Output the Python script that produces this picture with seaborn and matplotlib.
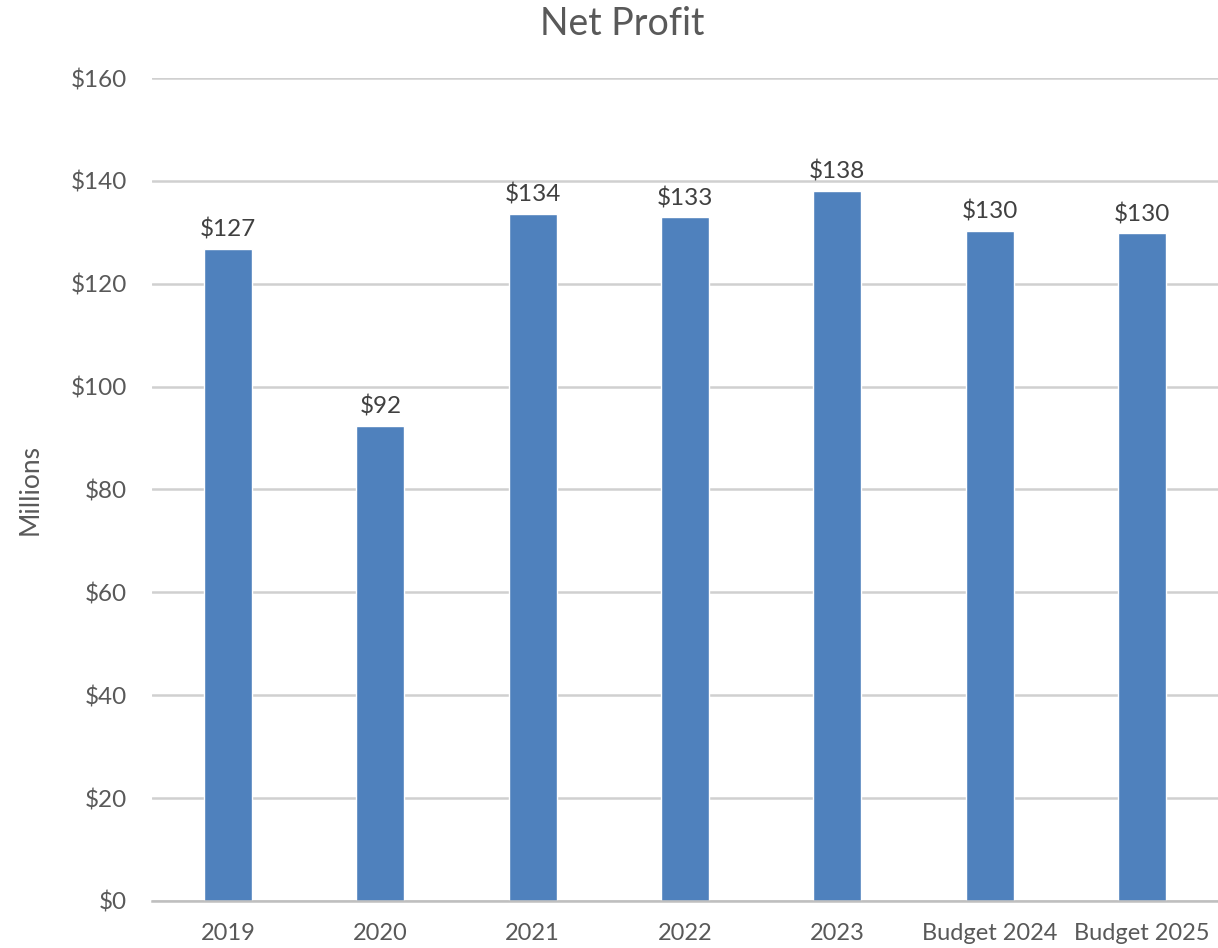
import matplotlib
matplotlib.use("Agg")
import matplotlib.pyplot as plt
import seaborn as sb

categories = ['2019', '2020', '2021', '2022', '2023', 'Budget 2024', 'Budget 2025']
profit = [126.7, 92.3, 133.5, 132.9, 138.1, 130.3, 129.8]
y_ticks = [0, 20, 40, 60, 80, 100, 120, 140, 160]

if __name__ == '__main__':
    sb.set_style('white')
    plt.rcParams['font.family'] = ['Lato', 'DejaVu Sans']

    fig = plt.figure(figsize=(12.18, 9.48), dpi=100)
    ax = fig.add_axes([0.1248, 0.0496, 0.8752, 0.8681])

    sb.barplot(x=categories, y=profit, color='#4F81BD', saturation=1, width=0.315, ax=ax)

    # gridlines like excel
    ax.set_ylim(0, 160)
    ax.set_xlim(-0.5, len(categories) - 0.5)
    ax.set_yticks(y_ticks)
    ax.set_yticklabels([f'${t}' for t in y_ticks])
    ax.yaxis.grid(True, color='#d0d0d0', linewidth=1.8)
    ax.set_axisbelow(True)
    for s in ['top', 'right', 'left']:
        ax.spines[s].set_visible(False)
    ax.spines['bottom'].set_color('#bfbfbf')
    ax.spines['bottom'].set_linewidth(1.8)
    ax.tick_params(axis='y', length=0, pad=18, labelsize=17.5, labelcolor='#595959')
    ax.tick_params(axis='x', length=0, pad=16, labelsize=17, labelcolor='#595959')

    ax.bar_label(ax.containers[0], labels=[f'${v:.0f}' for v in profit],
                 padding=6, fontsize=17.5, color='#404040')

    ax.set_xlabel('')
    ax.set_ylabel('Millions', fontsize=19, color='#595959', labelpad=20)
    fig.text(0.511, 0.975, 'Net Profit', ha='center', va='center', fontsize=27, color='#595959')

    fig.savefig('out.png', dpi=100)
